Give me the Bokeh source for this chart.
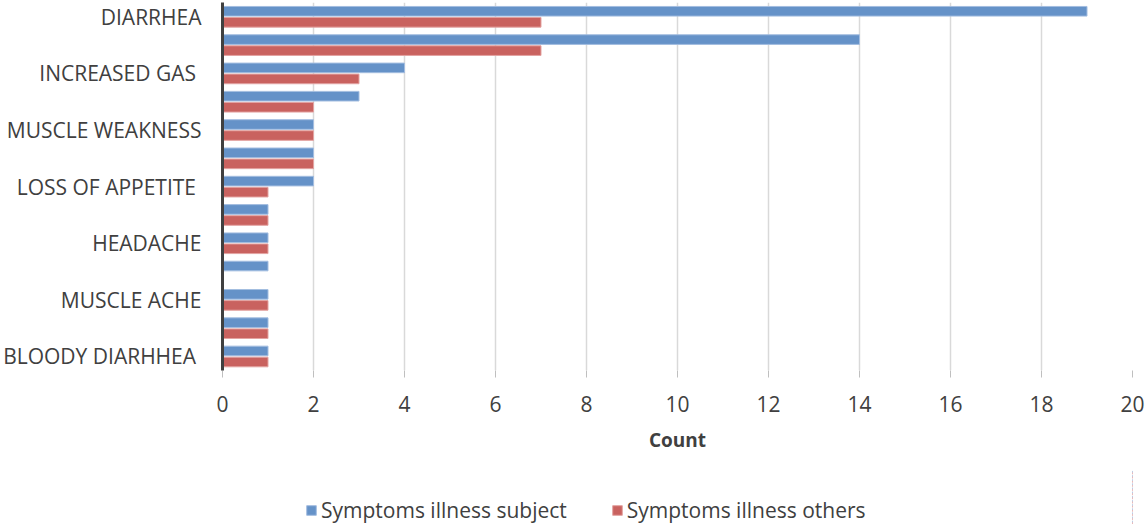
from bokeh.plotting import figure
from bokeh.layouts import column
from bokeh.models import Range1d, FixedTicker, Legend, LegendItem, ColumnDataSource
from bokeh.embed import file_html
from bokeh.resources import INLINE

# Symptom counts, top row first
subject_counts = [19, 14, 4, 3, 2, 2, 2, 1, 1, 1, 1, 1, 1]
others_counts = [7, 7, 3, 2, 2, 2, 1, 1, 1, 0, 1, 1, 1]
# Labels shown on every other row (rows 0, 2, 4, ...)
row_labels = ["DIARRHEA", "INCREASED GAS ", "MUSCLE WEAKNESS", "LOSS OF APPETITE ",
              "HEADACHE", "MUSCLE ACHE", "BLOODY DIARHHEA "]
series_names = ["Symptoms illness subject", "Symptoms illness others"]
x_ticks = [0, 2, 4, 6, 8, 10, 12, 14, 16, 18, 20]

n_rows = len(subject_counts)
rows = [i + 0.5 for i in range(n_rows)]

FONT = "Open Sans"
TEXT = "#404040"
BLUE, BLUE_EDGE = "#6592C8", "#A3BDE0"
RED, RED_EDGE = "#C9625F", "#E3A3A1"

src = ColumnDataSource(dict(
    y_subj=[r - 0.19 for r in rows],
    y_oth=[r + 0.20 for r in rows],
    subject=subject_counts,
    others=others_counts,
))
bar_styles = [dict(y="y_subj", right="subject", fill_color=BLUE, line_color=BLUE_EDGE),
              dict(y="y_oth", right="others", fill_color=RED, line_color=RED_EDGE)]

p = figure(width=1145, height=470, output_backend="svg", toolbar_location=None,
           x_range=Range1d(0, 20), y_range=Range1d(n_rows, 0),
           min_border_left=222, min_border_right=13, min_border_top=2,
           min_border_bottom=100)
p.outline_line_color = None
p.background_fill_color = "white"
p.border_fill_color = "white"

for st in bar_styles:
    p.hbar(left=0, height=0.34, source=src, line_width=1, **st)

# x axis: ticks and labels only, light grid
xa = p.xaxis[0]
xa.ticker = FixedTicker(ticks=x_ticks)
xa.axis_line_color = None
xa.major_tick_line_color = "#BFBFBF"
xa.major_tick_in = 0
xa.major_tick_out = 7
xa.minor_tick_line_color = None
xa.major_label_text_font = FONT
xa.major_label_text_font_size = "21px"
xa.major_label_text_color = TEXT
xa.major_label_standoff = 18
xa.axis_label = "Count"
xa.axis_label_text_font = FONT
xa.axis_label_text_font_size = "19px"
xa.axis_label_text_font_style = "bold"
xa.axis_label_text_color = TEXT
xa.axis_label_standoff = 12

p.xgrid.ticker = FixedTicker(ticks=x_ticks)
p.xgrid.grid_line_color = "#D9D9D9"
p.xgrid.grid_line_width = 1.5
p.ygrid.grid_line_color = None

# y axis: dark spine with labels on every other row
ya = p.yaxis[0]
label_rows = rows[::2]
ya.ticker = FixedTicker(ticks=label_rows)
ya.major_label_overrides = {r: lab for r, lab in zip(label_rows, row_labels)}
ya.axis_line_color = "#404040"
ya.axis_line_width = 3
ya.major_tick_line_color = None
ya.minor_tick_line_color = None
ya.major_label_text_font = FONT
ya.major_label_text_font_size = "21px"
ya.major_label_text_color = TEXT
ya.major_label_standoff = 15

# legend strip below the chart; its bars sit outside the visible x range,
# so only the legend swatches show
leg = figure(width=1145, height=54, output_backend="svg", toolbar_location=None,
             x_range=Range1d(-3, -2), y_range=Range1d(n_rows, 0),
             x_axis_type=None, y_axis_type=None,
             min_border_left=222, min_border_right=13, min_border_top=0,
             min_border_bottom=0)
leg.outline_line_color = None
leg.background_fill_color = None
leg.border_fill_color = None
leg.grid.grid_line_color = None
swatches = [leg.hbar(left=0, height=0.34, source=src, line_width=1, **st)
            for st in bar_styles]
legend = Legend(items=[LegendItem(label=name, renderers=[r])
                       for name, r in zip(series_names, swatches)],
                orientation="horizontal", location=(83, 0),
                label_text_font=FONT, label_text_font_size="21px",
                label_text_color=TEXT, glyph_width=12, glyph_height=12,
                label_standoff=4, spacing=44, padding=0, margin=0,
                border_line_color=None, background_fill_alpha=0)
leg.add_layout(legend, "center")

layout = column(p, leg, spacing=0)
open("out.html", "w").write(file_html(layout, INLINE))
